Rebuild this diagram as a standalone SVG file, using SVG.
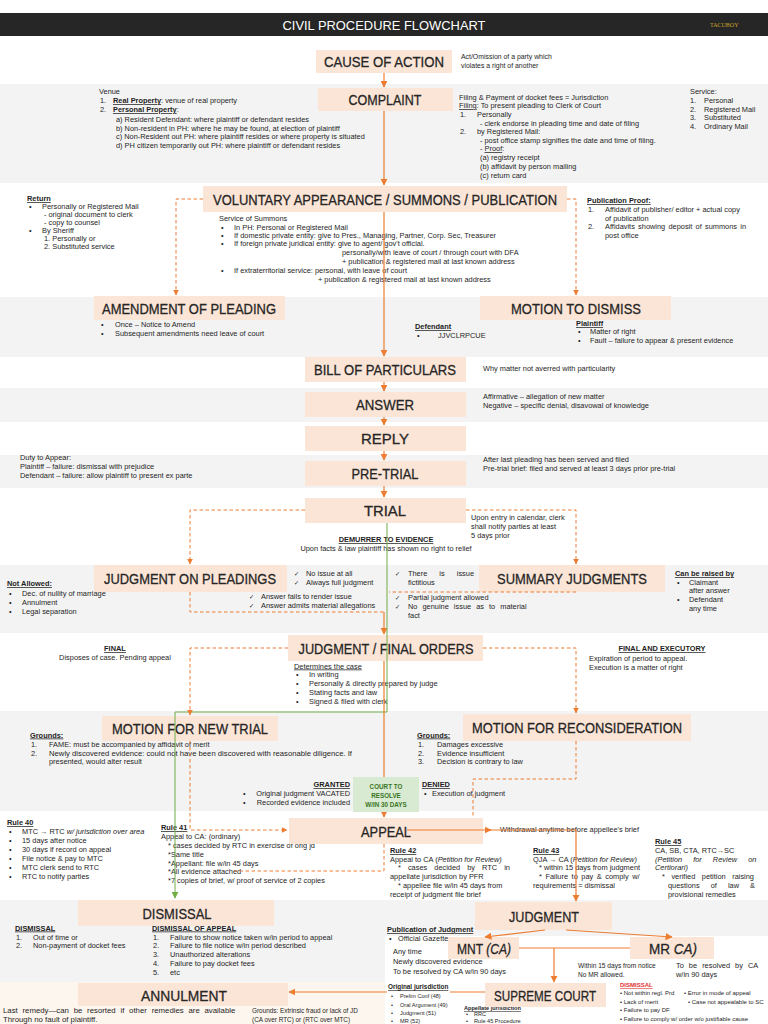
<svg xmlns="http://www.w3.org/2000/svg" width="768" height="1024" viewBox="0 0 768 1024">
<defs>
<style>
.s{font-family:"Liberation Sans",Arial,sans-serif;font-size:7.4px;fill:#1e1e1e}
.h{font-weight:bold;text-decoration:underline}
.u{text-decoration:underline}
.i{font-style:italic}
.bx{fill:#fbe5d6}
.lb{font-family:"Liberation Sans Narrow","Liberation Sans",Arial,sans-serif;font-size:15.5px;fill:#262626;stroke:#262626;stroke-width:0.3;text-anchor:middle}
.c{fill:none;stroke:#ed7d31;stroke-width:1.2}
.d{fill:none;stroke:#ed7d31;stroke-width:1;stroke-dasharray:3.5 2.5}
.g{fill:none;stroke:#70ad47;stroke-width:1}
.band{fill:#f3f3f3}
.ck{font-family:"DejaVu Sans",sans-serif;font-size:6.2px}
.sm{font-size:6px}
.xs{font-size:5.6px}
.gt{font-family:"Liberation Sans",Arial,sans-serif;font-size:6.3px;font-weight:bold;fill:#38761d;text-anchor:middle}
</style>
<marker id="ah" viewBox="0 0 10 10" refX="9" refY="5" markerWidth="6" markerHeight="6" orient="auto"><path d="M0,0 L10,5 L0,10 z" fill="#ed7d31"/></marker>
<marker id="ahg" viewBox="0 0 10 10" refX="9" refY="5" markerWidth="7" markerHeight="7" orient="auto"><path d="M0,0 L10,5 L0,10 z" fill="#70ad47"/></marker>
</defs>

<g id="background">
<rect x="0" y="0" width="768" height="1024" fill="#ffffff"/>
<rect x="0" y="13" width="768" height="23" fill="#262626"/>
<rect class="band" x="0" y="84" width="768" height="99"/>
<rect class="band" x="0" y="297" width="768" height="60"/>
<rect class="band" x="0" y="388" width="768" height="34"/>
<rect class="band" x="0" y="455" width="768" height="33"/>
<rect class="band" x="0" y="565" width="768" height="68"/>
<rect class="band" x="0" y="711" width="768" height="100"/>
<rect class="band" x="0" y="900" width="768" height="36"/>
<rect class="band" x="0" y="936" width="385" height="46"/>
<rect x="0" y="982" width="385" height="42" fill="#fdf6ee"/>
<text x="384" y="29.5" font-family="Liberation Sans Narrow,Liberation Sans,Arial,sans-serif" font-size="13.5" fill="#ffffff" text-anchor="middle" textLength="203" lengthAdjust="spacingAndGlyphs">CIVIL PROCEDURE FLOWCHART</text>
<text x="710" y="27" font-family="Liberation Serif,serif" font-size="6" fill="#c9a227">TACUBOY</text>
</g>

<g id="annotations" class="s">
<text x="461" y="59" font-size="6.9">Act/Omission of a party which</text>
<text x="461" y="68" font-size="6.9">violates a right of another</text>

<text x="99" y="94">Venue</text>
<text x="100" y="103">1.</text><text x="113" y="103"><tspan class="u" font-weight="bold">Real Property</tspan>: venue of real property</text>
<text x="100" y="112">2.</text><text x="113" y="112"><tspan class="u" font-weight="bold">Personal Property</tspan>:</text>
<text x="116" y="122">a) Resident Defendant: where plaintiff or defendant resides</text>
<text x="116" y="130.5">b) Non-resident in PH: where he may be found, at election of plaintiff</text>
<text x="116" y="139">c) Non-Resident out PH: where plaintiff resides or where property is situated</text>
<text x="116" y="147.5">d) PH citizen temporarily out PH: where plaintiff or defendant resides</text>

<text x="459" y="100">Filing &amp; Payment of docket fees = Jurisdiction</text>
<text x="459" y="108"><tspan class="u">Filing</tspan>: To present pleading to Clerk of Court</text>
<text x="460" y="117">1.</text><text x="477" y="117">Personally</text>
<text x="480" y="126">- clerk endorse in pleading time and date of filing</text>
<text x="460" y="134">2.</text><text x="477" y="134">by Registered Mail:</text>
<text x="480" y="143">- post office stamp signifies the date and time of filing.</text>
<text x="480" y="151">- <tspan class="u">Proof</tspan>:</text>
<text x="480" y="160">(a) registry receipt</text>
<text x="480" y="169">(b) affidavit by person mailing</text>
<text x="480" y="178">(c) return card</text>

<text x="690" y="94">Service:</text>
<text x="690" y="103">1.</text><text x="704" y="103">Personal</text>
<text x="690" y="111.5">2.</text><text x="704" y="111.5">Registered Mail</text>
<text x="690" y="120">3.</text><text x="704" y="120">Substituted</text>
<text x="690" y="128.5">4.</text><text x="704" y="128.5">Ordinary Mail</text>

<text x="27" y="201" class="h">Return</text>
<text x="29" y="209">•</text><text x="42" y="209">Personally or Registered Mail</text>
<text x="44" y="217">- original document to clerk</text>
<text x="44" y="225">- copy to counsel</text>
<text x="29" y="233">•</text><text x="42" y="233">By Sheriff</text>
<text x="44" y="241">1. Personally or</text>
<text x="44" y="249">2. Substituted service</text>

<text x="219" y="221">Service of Summons</text>
<text x="221" y="229.5">•</text><text x="234" y="229.5">In PH: Personal or Registered Mail</text>
<text x="221" y="237.5">•</text><text x="234" y="237.5">If domestic private entity: give to Pres., Managing, Partner, Corp. Sec, Treasurer</text>
<text x="221" y="246">•</text><text x="234" y="246">If foreign private juridical entity: give to agent/ gov't official.</text>
<text x="342" y="255">personally/with leave of court / through court with DFA</text>
<text x="342" y="264">+ publication &amp; registered mail at last known address</text>
<text x="221" y="273">•</text><text x="234" y="273">If extraterritorial service: personal, with leave of court</text>
<text x="318" y="282">+ publication &amp; registered mail at last known address</text>

<text x="587" y="203" class="h">Publication Proof:</text>
<text x="588" y="212">1.</text><text x="605" y="212">Affidavit of publisher/ editor + actual copy</text>
<text x="605" y="220.5">of publication</text>
<text x="588" y="229">2.</text><text x="605" y="229" word-spacing="1.2">Affidavits showing deposit of summons in</text>
<text x="605" y="237.5">post office</text>

<text x="101" y="327">•</text><text x="115" y="327">Once – Notice to Amend</text>
<text x="101" y="335.5">•</text><text x="115" y="335.5">Subsequent amendments need leave of court</text>
<text x="415" y="329" class="h">Defendant</text>
<text x="417" y="337.5">•</text><text x="438" y="337.5">JJVCLRPCUE</text>
<text x="576" y="326" class="h">Plaintiff</text>
<text x="578" y="334">•</text><text x="590" y="334">Matter of right</text>
<text x="578" y="342.5">•</text><text x="590" y="342.5">Fault – failure to appear &amp; present evidence</text>

<text x="483" y="371">Why matter not averred with particularity</text>
<text x="483" y="399">Affirmative – allegation of new matter</text>
<text x="483" y="408">Negative – specific denial, disavowal of knowledge</text>

<text x="20" y="460">Duty to Appear:</text>
<text x="20" y="469">Plaintiff – failure: dismissal with prejudice</text>
<text x="20" y="478">Defendant – failure: allow plaintiff to present ex parte</text>
<text x="483" y="462">After last pleading has been served and filed</text>
<text x="483" y="471">Pre-trial brief: filed and served at least 3 days prior pre-trial</text>

<text x="471" y="520">Upon entry in calendar, clerk</text>
<text x="471" y="529">shall notify parties at least</text>
<text x="471" y="538"> 5 days prior</text>
<text x="386" y="542" text-anchor="middle" class="u" font-weight="bold">DEMURRER TO EVIDENCE</text>
<text x="386" y="551" text-anchor="middle">Upon facts &amp; law plaintiff has shown no right to relief</text>

<text x="294" y="576"><tspan class="ck">✓</tspan><tspan x="306">No issue at all</tspan></text>
<text x="294" y="585"><tspan class="ck">✓</tspan><tspan x="306">Always full judgment</tspan></text>
<text x="249" y="599"><tspan class="ck">✓</tspan><tspan x="261">Answer fails to render issue</tspan></text>
<text x="249" y="608"><tspan class="ck">✓</tspan><tspan x="261">Answer admits material allegations</tspan></text>
<text x="395" y="576"><tspan class="ck">✓</tspan><tspan x="408" word-spacing="10">There is issue but</tspan></text>
<text x="408" y="585">fictitious</text>
<text x="395" y="600"><tspan class="ck">✓</tspan><tspan x="408">Partial judgment allowed</tspan></text>
<text x="395" y="609"><tspan class="ck">✓</tspan><tspan x="408" word-spacing="3">No genuine issue as to material</tspan></text>
<text x="408" y="618">fact</text>

<text x="7" y="586" class="h">Not Allowed:</text>
<text x="9" y="595.5">•</text><text x="22" y="595.5">Dec. of nullity of marriage</text>
<text x="9" y="604.5">•</text><text x="22" y="604.5">Annulment</text>
<text x="9" y="613.5">•</text><text x="22" y="613.5">Legal separation</text>
<text x="675" y="576" class="h">Can be raised by</text>
<text x="677" y="585">•</text><text x="689" y="585">Claimant</text>
<text x="689" y="593">after answer</text>
<text x="677" y="602">•</text><text x="689" y="602">Defendant</text>
<text x="689" y="610.5">any time</text>

<text x="115" y="651" text-anchor="middle" class="h">FINAL</text>
<text x="115" y="660" text-anchor="middle">Disposes of case. Pending appeal</text>
<text x="662" y="651" text-anchor="middle" class="h">FINAL AND EXECUTORY</text>
<text x="589" y="660.5">Expiration of period to appeal.</text>
<text x="589" y="669.5">Execution is a matter of right</text>
<text x="294" y="668.5" class="u">Determines the case</text>
<text x="296" y="677">•</text><text x="309" y="677">In writing</text>
<text x="296" y="686">•</text><text x="309" y="686">Personally &amp; directly prepared by judge</text>
<text x="296" y="694.5">•</text><text x="309" y="694.5">Stating facts and law</text>
<text x="296" y="703.5">•</text><text x="309" y="703.5">Signed &amp; filed with clerk</text>

<text x="30" y="737.5" class="h">Grounds:</text>
<text x="31" y="746.5">1.</text><text x="49" y="746.5">FAME: must be accompanied by affidavit of merit</text>
<text x="31" y="755.5">2.</text><text x="49" y="755.5" textLength="303" lengthAdjust="spacingAndGlyphs">Newly discovered evidence: could not have been discovered with reasonable diligence. If</text>
<text x="49" y="764">presented, would alter result</text>
<text x="417" y="737.5" class="h">Grounds:</text>
<text x="418" y="746.5">1.</text><text x="437" y="746.5">Damages excessive</text>
<text x="418" y="755.5">2.</text><text x="437" y="755.5">Evidence insufficient</text>
<text x="418" y="764">3.</text><text x="437" y="764">Decision is contrary to law</text>

<text x="350" y="787" text-anchor="end" class="h">GRANTED</text>
<text x="243" y="796">•</text><text x="350" y="796" text-anchor="end">Original judgment VACATED</text>
<text x="243" y="805">•</text><text x="350" y="805" text-anchor="end">Recorded evidence included</text>
<text x="422" y="787" class="h">DENIED</text>
<text x="424" y="796">•</text><text x="432" y="796">Execution of judgment</text>

<text x="7" y="825" class="h">Rule 40</text>
<text x="9" y="834">•</text><text x="22" y="834">MTC → RTC <tspan class="i">w/ jurisdiction over area</tspan></text>
<text x="9" y="843">•</text><text x="22" y="843">15 days after notice</text>
<text x="9" y="852">•</text><text x="22" y="852">30 days if record on appeal</text>
<text x="9" y="861">•</text><text x="22" y="861">File notice &amp; pay to MTC</text>
<text x="9" y="870">•</text><text x="22" y="870">MTC clerk send to RTC</text>
<text x="9" y="879">•</text><text x="22" y="879">RTC to notify parties</text>

<text x="161" y="830" class="h">Rule 41</text>
<text x="161" y="839">Appeal to CA: (ordinary)</text>
<text x="168" y="848">* cases decided by RTC in exercise of orig jd</text>
<text x="168" y="857">*Same title</text>
<text x="168" y="865.5">*Appellant: file w/in 45 days</text>
<text x="168" y="874">*All evidence attached</text>
<text x="168" y="883">*7 copies of brief, w/ proof of service of 2 copies</text>

<text x="500" y="832">Withdrawal anytime before appellee's brief</text>

<text x="390" y="853" class="h">Rule 42</text>
<text x="390" y="861.5">Appeal to CA (<tspan class="i">Petition for Review)</tspan></text>
<text x="398" y="870" word-spacing="5">* cases decided by RTC in</text>
<text x="390" y="879">appellate jurisdiction by PFR</text>
<text x="398" y="888">* appellee file w/in 45 days from</text>
<text x="390" y="897">receipt of judgment file brief</text>

<text x="533" y="853" class="h">Rule 43</text>
<text x="533" y="861.5">QJA → CA (<tspan class="i">Petition for Review)</tspan></text>
<text x="539" y="870">* within 15 days from judgment</text>
<text x="539" y="879" word-spacing="1.5">* Failure to pay &amp; comply w/</text>
<text x="533" y="888">requirements = dismissal</text>

<text x="655" y="844" class="h">Rule 45</text>
<text x="655" y="852.5">CA, SB, CTA, RTC→SC</text>
<text x="655" y="861.5" class="i" word-spacing="9">(Petition for Review on</text>
<text x="655" y="870" class="i">Certiorari)</text>
<text x="662" y="879" word-spacing="4.5">* verified petition raising</text>
<text x="668" y="888" word-spacing="9">questions of law &amp;</text>
<text x="668" y="897">provisional remedies</text>

<text x="15" y="930.5" class="h">DISMISSAL</text>
<text x="16" y="939.5">1.</text><text x="33" y="939.5">Out of time or</text>
<text x="16" y="948">2.</text><text x="33" y="948">Non-payment of docket fees</text>
<text x="152" y="930.5" class="h">DISMISSAL OF APPEAL</text>
<text x="153" y="939.5">1.</text><text x="170" y="939.5">Failure to show notice taken w/in period to appeal</text>
<text x="153" y="948">2.</text><text x="170" y="948">Failure to file notice w/in period described</text>
<text x="153" y="957">3.</text><text x="170" y="957">Unauthorized alterations</text>
<text x="153" y="966">4.</text><text x="170" y="966">Failure to pay docket fees</text>
<text x="153" y="975">5.</text><text x="170" y="975">etc</text>

<text x="387" y="932" class="h">Publication of Judgment</text>
<text x="389" y="940.5">•</text><text x="398" y="940.5">Official Gazette</text>
<text x="393" y="954">Any time</text>
<text x="393" y="964">Newly discovered evidence</text>
<text x="393" y="974">To be resolved by CA w/in 90 days</text>
<text x="578" y="967.5" font-size="6.6">Within 15 days from notice</text>
<text x="578" y="976.5" font-size="6.6">No MR allowed.</text>
<text x="676" y="967.5" word-spacing="3">To be resolved by CA</text>
<text x="676" y="976.5">w/in 90 days</text>

<text x="3" y="1013" font-size="7.8" word-spacing="2.6">Last remedy—can be resorted if other remedies are available</text>
<text x="3" y="1022" font-size="7.8">Through no fault of plaintiff.</text>
<text x="252" y="1013" font-size="6.4">Grounds: Extrinsic fraud or lack of JD</text>
<text x="252" y="1022" font-size="6.4">(CA over RTC) or (RTC over MTC)</text>

<text x="388" y="989" class="h" font-size="6.4">Original jurisdiction</text>
<g class="xs">
<text x="391" y="998">•</text><text x="400" y="998">Prelim Conf (48)</text>
<text x="391" y="1006.5">•</text><text x="400" y="1006.5">Oral Argument (49)</text>
<text x="391" y="1015">•</text><text x="400" y="1015">Judgment (51)</text>
<text x="391" y="1023">•</text><text x="400" y="1023">MR (52)</text>
<text x="464" y="1010" class="h">Appellate jurisdiction</text>
<text x="466" y="1016">•</text><text x="474" y="1016">RRC</text>
<text x="466" y="1022.5">•</text><text x="474" y="1022.5">Rule 45 Procedure</text>
</g>
<g class="sm">
<text x="620" y="987" class="h" style="fill:#e03030">DISMISSAL</text>
<text x="620" y="995">• Not within regl. Prd</text>
<text x="684" y="995">• Error in mode of appeal</text>
<text x="620" y="1003.5">• Lack of merit</text>
<text x="688" y="1003.5">• Case not appealable to SC</text>
<text x="620" y="1012">• Failure to pay DF</text>
<text x="620" y="1020.5">• Failure to comply w/ order w/o justifiable cause</text>
</g>
</g>

<g id="node-cause"><rect class="bx" x="316" y="50" width="136" height="23"/><text class="lb" x="384" y="67" textLength="120" lengthAdjust="spacingAndGlyphs">CAUSE OF ACTION</text></g>
<g id="node-complaint"><rect class="bx" x="318" y="88" width="135" height="23"/><text class="lb" x="385" y="105" textLength="73" lengthAdjust="spacingAndGlyphs">COMPLAINT</text></g>
<g id="node-voluntary"><rect class="bx" x="203" y="186" width="364" height="26"/><text class="lb" x="385" y="205" textLength="344" lengthAdjust="spacingAndGlyphs">VOLUNTARY APPEARANCE / SUMMONS / PUBLICATION</text></g>
<g id="node-amendment"><rect class="bx" x="94" y="296" width="191" height="24"/><text class="lb" x="189" y="313.5" textLength="174" lengthAdjust="spacingAndGlyphs">AMENDMENT OF PLEADING</text></g>
<g id="node-mtd"><rect class="bx" x="480" y="296" width="191" height="24"/><text class="lb" x="576" y="313.5" textLength="130" lengthAdjust="spacingAndGlyphs">MOTION TO DISMISS</text></g>
<g id="node-bill"><rect class="bx" x="305" y="357" width="161" height="25"/><text class="lb" x="385" y="375" textLength="142" lengthAdjust="spacingAndGlyphs">BILL OF PARTICULARS</text></g>
<g id="node-answer"><rect class="bx" x="305" y="392" width="161" height="25"/><text class="lb" x="385" y="410" textLength="58" lengthAdjust="spacingAndGlyphs">ANSWER</text></g>
<g id="node-reply"><rect class="bx" x="305" y="426" width="161" height="25"/><text class="lb" x="385" y="444" textLength="48" lengthAdjust="spacingAndGlyphs">REPLY</text></g>
<g id="node-pretrial"><rect class="bx" x="305" y="461" width="161" height="25"/><text class="lb" x="385" y="479" textLength="67" lengthAdjust="spacingAndGlyphs">PRE-TRIAL</text></g>
<g id="node-trial"><rect class="bx" x="305" y="498" width="161" height="25"/><text class="lb" x="385" y="516" textLength="42" lengthAdjust="spacingAndGlyphs">TRIAL</text></g>
<g id="node-jop"><rect class="bx" x="94" y="565" width="193" height="27"/><text class="lb" x="190" y="584" textLength="172" lengthAdjust="spacingAndGlyphs">JUDGMENT ON PLEADINGS</text></g>
<g id="node-summary"><rect class="bx" x="479" y="565" width="186" height="27"/><text class="lb" x="572" y="584" textLength="150" lengthAdjust="spacingAndGlyphs">SUMMARY JUDGMENTS</text></g>
<g id="node-jfo"><rect class="bx" x="288" y="635" width="195" height="26"/><text class="lb" x="386" y="654" textLength="175" lengthAdjust="spacingAndGlyphs">JUDGMENT / FINAL ORDERS</text></g>
<g id="node-mnt"><rect class="bx" x="102" y="716" width="176" height="25"/><text class="lb" x="190" y="734" textLength="156" lengthAdjust="spacingAndGlyphs">MOTION FOR NEW TRIAL</text></g>
<g id="node-mr"><rect class="bx" x="463" y="714" width="228" height="27"/><text class="lb" x="577" y="733" textLength="210" lengthAdjust="spacingAndGlyphs">MOTION FOR RECONSIDERATION</text></g>
<g id="node-appeal"><rect class="bx" x="289" y="818" width="194" height="26"/><text class="lb" x="386" y="837" textLength="50" lengthAdjust="spacingAndGlyphs">APPEAL</text></g>
<g id="node-dismissal"><rect class="bx" x="78" y="900" width="196" height="26"/><text class="lb" x="177" y="919" textLength="69" lengthAdjust="spacingAndGlyphs">DISMISSAL</text></g>
<g id="node-judgment"><rect class="bx" x="475" y="902" width="137" height="28"/><text class="lb" x="544" y="922" textLength="70" lengthAdjust="spacingAndGlyphs">JUDGMENT</text></g>
<g id="node-mntca"><rect class="bx" x="448" y="937" width="71" height="22"/><text class="lb" x="484" y="954" textLength="54" lengthAdjust="spacingAndGlyphs">MNT <tspan class="i">(CA)</tspan></text></g>
<g id="node-mrca"><rect class="bx" x="630" y="937" width="84" height="22"/><text class="lb" x="673" y="954" textLength="48" lengthAdjust="spacingAndGlyphs">MR <tspan class="i">CA)</tspan></text></g>
<g id="node-annulment"><rect class="bx" x="78" y="983" width="210" height="23"/><text class="lb" x="184" y="1000.5" textLength="86" lengthAdjust="spacingAndGlyphs">ANNULMENT</text></g>
<g id="node-supreme"><rect class="bx" x="485" y="983" width="121" height="24"/><text class="lb" x="545" y="1001" textLength="102" lengthAdjust="spacingAndGlyphs">SUPREME COURT</text></g>

<g id="connectors">
<path class="c" d="M384 73 V87" marker-end="url(#ah)"/>
<path class="c" d="M384 111 V185" marker-end="url(#ah)"/>
<path class="c" d="M384 212 V356" marker-end="url(#ah)"/>
<path class="d" d="M203 199 H176 V295" marker-end="url(#ah)"/>
<path class="d" d="M567 199 H576 V295" marker-end="url(#ah)"/>
<path class="c" d="M384 382 V391" marker-end="url(#ah)"/>
<path class="c" d="M384 417 V425" marker-end="url(#ah)"/>
<path class="c" d="M384 451 V460" marker-end="url(#ah)"/>
<path class="c" d="M384 486 V497" marker-end="url(#ah)"/>
<path class="d" d="M305 510 H190 V564" marker-end="url(#ah)"/>
<path class="d" d="M466 510 H576 V564" marker-end="url(#ah)"/>
<path class="d" d="M190 592 V612 H384"/>
<path class="d" d="M576 592 H389"/>
<path class="c" d="M384 612 V634" marker-end="url(#ah)"/>
<path class="g" d="M387 523 V712 H175 V898" marker-end="url(#ahg)"/>
<path class="d" d="M288 648 H190 V715" marker-end="url(#ah)"/>
<path class="d" d="M483 648 H576 V713" marker-end="url(#ah)"/>
<path class="c" d="M384 661 V817" marker-end="url(#ah)"/>
<path class="d" d="M190 741 V830 H287" marker-end="url(#ah)"/>
<path class="d" d="M576 741 V779 H473 V818"/>
<path class="d" d="M384 844 V871 H235"/>
<path class="c" d="M407 830 H491" marker-end="url(#ah)"/>
<path class="c" d="M489 830 H576 V901" marker-end="url(#ah)"/>
<path class="c" d="M545 930 L485 937" marker-end="url(#ah)"/>
<path class="c" d="M566 930 L672 937" marker-end="url(#ah)"/>
<path class="c" d="M519 948 H630"/>
<path class="c" d="M554 948 V982" marker-end="url(#ah)"/>
<path class="c" d="M485 992 H450 M387 992 H289" marker-end="url(#ah)"/>
</g>

<g id="node-court">
<rect x="353" y="777" width="66" height="35" fill="#d9ead3"/>
<text class="gt" x="386" y="789">COURT TO</text>
<text class="gt" x="386" y="798">RESOLVE</text>
<text class="gt" x="386" y="807">W/IN 30 DAYS</text>
</g>
</svg>
